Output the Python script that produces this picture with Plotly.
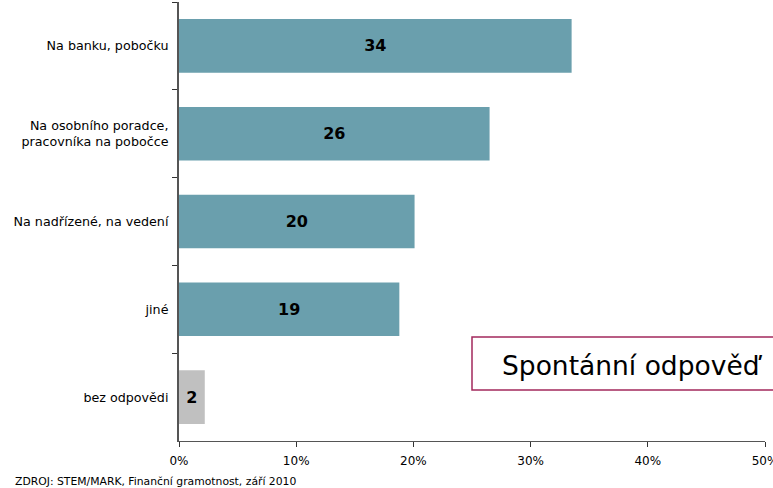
import plotly.graph_objects as go

categories = [
    "Na banku, pobočku",
    "Na osobního poradce,<br>pracovníka na pobočce",
    "Na nadřízené, na vedení",
    "jiné",
    "bez odpovědi",
]
values = [33.5, 26.5, 20.1, 18.8, 2.2]
labels = ["34", "26", "20", "19", "2"]
colors = ["#6a9fad", "#6a9fad", "#6a9fad", "#6a9fad", "#c0c0c0"]

fig = go.Figure()

fig.add_trace(
    go.Bar(
        x=values,
        y=categories,
        orientation="h",
        marker=dict(color=colors, line=dict(width=0)),
        text=[f"<b>{t}</b>" for t in labels],
        textposition="inside",
        insidetextanchor="middle",
        textangle=0,
        textfont=dict(family="DejaVu Sans", size=16, color="black"),
        hoverinfo="skip",
    )
)

fig.update_layout(
    width=773,
    height=488,
    showlegend=False,
    plot_bgcolor="white",
    paper_bgcolor="white",
    bargap=0.39,
    margin=dict(l=179, r=8, t=2, b=47, pad=0),
    font=dict(family="DejaVu Sans", size=12, color="black"),
    xaxis=dict(
        range=[0, 50],
        tickvals=[0, 10, 20, 30, 40, 50],
        ticktext=["0%", "10%", "20%", "30%", "40%", "50%"],
        ticklabeloverflow="allow",
        automargin=False,
        showgrid=False,
        zeroline=False,
        showline=True,
        linecolor="#555555",
        linewidth=1,
        ticks="outside",
        ticklen=5,
        tickcolor="#333333",
        tickfont=dict(size=12),
        ticklabelstandoff=4,
    ),
    yaxis=dict(
        autorange="reversed",
        automargin=False,
        showgrid=False,
        showline=True,
        linecolor="#555555",
        linewidth=2,
        ticks="outside",
        tickson="boundaries",
        ticklen=5,
        tickcolor="#333333",
        ticklabelstandoff=6,
        tickfont=dict(size=12.7),
    ),
    shapes=[
        dict(
            type="rect",
            xref="paper",
            yref="paper",
            x0=0.5,
            x1=1.05,
            y0=0.116,
            y1=0.237,
            line=dict(color="#a3285c", width=1.5),
            fillcolor="white",
        )
    ],
    annotations=[
        dict(
            text="Spontánní odpověď",
            xref="paper",
            yref="paper",
            x=0.548,
            y=0.172,
            xanchor="left",
            yanchor="middle",
            showarrow=False,
            font=dict(size=26.5, color="black"),
        ),
        dict(
            text="ZDROJ: STEM/MARK, Finanční gramotnost, září 2010",
            xref="paper",
            yref="paper",
            x=-0.284,
            y=-0.072,
            xanchor="left",
            yanchor="top",
            showarrow=False,
            font=dict(size=10.8, color="black"),
        ),
    ],
)

fig.write_html(
    "out.html",
    config={"displayModeBar": False},
    post_script="document.body.style.margin='0';",
)
